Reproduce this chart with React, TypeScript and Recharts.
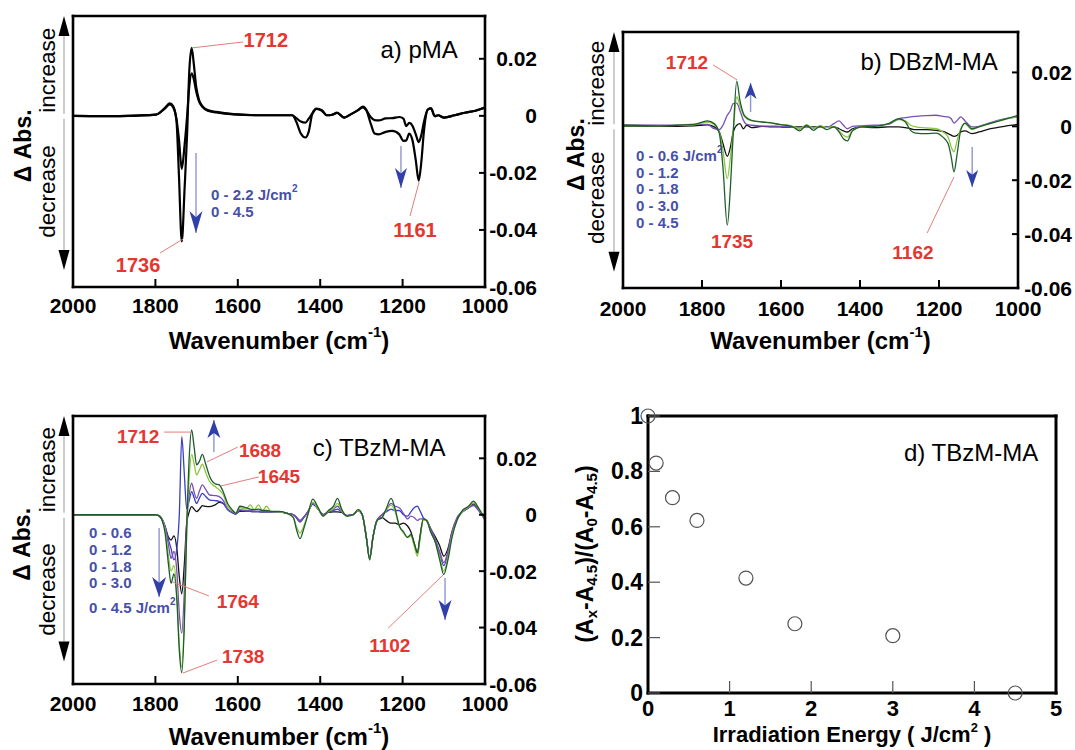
import React from 'react';
import { LineChart, Line, XAxis, YAxis, ReferenceLine, ReferenceDot, ScatterChart, Scatter } from 'recharts';

const FONT = '"Liberation Sans", Arial, Helvetica, sans-serif';
const RED = '#e6362f';
const LEADER = '#e47d78';
const BLUE_TXT = '#4650a8';
const BLUE_HEAD = '#3140a8';
const BLUE_SHAFT = '#8d96cf';

// ---------------- data ----------------
const wnTicks = [2000, 1800, 1600, 1400, 1200, 1000];
const absTicks = [0.02, 0, -0.02, -0.04, -0.06];
const ABS_MIN = -0.06;
const ABS_MAX = 0.035;

// a) pMA
const pmaWn = [
  2000, 1929, 1845, 1799, 1778, 1765, 1757, 1749, 1743, 1736,
  1729, 1723, 1718, 1712, 1707, 1701, 1694, 1686, 1673, 1652,
  1610, 1552, 1468, 1458, 1447, 1436, 1428, 1419, 1409, 1396,
  1384, 1371, 1359, 1342, 1325, 1308, 1296, 1288, 1277, 1268,
  1258, 1241, 1225, 1208, 1198, 1191, 1184, 1176, 1168, 1161,
  1155, 1148, 1139, 1131, 1122, 1114, 1099, 1074, 1049, 1023, 1000,
];
const pma45 = [
  0, -0.0001, 0.0001, 0.0004, 0.0026, 0.0044, 0.0034, -0.0015, -0.0203, -0.044,
  -0.025, -0.0062, 0.0149, 0.0238, 0.0185, 0.0102, 0.0055, 0.0034, 0.002, 0.0014,
  0.0006, 0.0002, 0.0002, -0.0021, -0.0062, -0.0076, -0.0056, 0.0008, 0.0025, 0.002,
  0.0002, 0.0004, 0.0011, -0.0006, 0.0006, 0.002, 0.0032, 0.002, -0.0029, -0.0062,
  -0.0065, -0.0056, -0.0053, -0.0065, -0.0088, -0.0086, -0.0062, -0.0086, -0.0156, -0.0227,
  -0.0168, -0.0051, 0.0022, 0.0026, -0.0001, 0.0002, -0.0006, 0.0002, 0.0011, 0.0018, 0.0029,
];
const pma22 = [
  0, -0.0001, 0.0001, 0.0004, 0.0024, 0.004, 0.003, -0.001, -0.008, -0.0186,
  -0.01, 0, 0.01, 0.0149, 0.013, 0.0085, 0.005, 0.0032, 0.0018, 0.0012,
  0.0005, 0.0002, 0.0002, -0.0008, -0.002, -0.0024, -0.001, 0.0008, 0.0024, 0.0018,
  0.0002, 0.0004, 0.001, -0.0006, 0.0006, 0.002, 0.003, 0.002, -0.0005, -0.0015,
  -0.0016, -0.0009, -0.0008, -0.0004, -0.001, -0.0036, -0.0025, -0.0035, -0.0065, -0.0092,
  -0.007, -0.002, 0.0022, 0.0026, -0.0001, 0.0002, -0.0006, 0.0002, 0.0011, 0.0018, 0.0029,
];

// b) DBzM-MA
const dbzWn = [
  2000, 1907, 1820, 1786, 1769, 1756, 1747, 1736, 1728, 1721,
  1712, 1704, 1695, 1687, 1674, 1648, 1622, 1604, 1587, 1570,
  1553, 1535, 1518, 1501, 1484, 1466, 1453, 1442, 1432, 1419,
  1397, 1363, 1328, 1302, 1285, 1272, 1259, 1233, 1207, 1190,
  1177, 1169, 1162, 1154, 1145, 1134, 1117, 1099, 1078, 1043,
  1000,
];
const dbz06 = [
  0, 0, 0.0002, 0.0005, -0.0002, -0.0021, -0.0064, -0.0111, -0.0077, -0.0021,
  0.0004, 0.001, -0.0009, 0.0004, -0.0005, 0, -0.0002, -0.0002, -0.0003, -0.0002,
  -0.0002, -0.0002, -0.0002, -0.0002, -0.0002, -0.0002, -0.0009, -0.0017, -0.0021, -0.0009,
  -0.0002, -0.0005, -0.0002, -0.0002, -0.0005, -0.0009, -0.0012, -0.0012, -0.0015, -0.0019,
  -0.0027, -0.0033, -0.0037, -0.0033, -0.0021, -0.0017, -0.0027, -0.0021, -0.0012, -0.0002,
  0.0007,
];
const dbz12 = [
  0.0005, 0.0004, 0.0007, 0.0007, -0.0009, -0.0012, 0.0004, 0.0041, 0.0059, 0.0084,
  0.0086, 0.0059, 0.0022, 0.0007, 0.0004, 0.0001, 0.0001, 0, 0, -0.0002,
  -0.001, 0, -0.0007, 0.0001, -0.0004, 0.001, 0.002, 0.0004, -0.0009, 0,
  0.0002, 0.0004, 0.0007, 0.0028, 0.0032, 0.0035, 0.0037, 0.004, 0.0041, 0.0037,
  0.0035, 0.0028, 0.0012, 0.0022, 0.0035, 0.002, -0.0002, 0, 0.001, 0.0025,
  0.0035,
];
const dbz30 = [
  0.0002, 0.0002, 0.0006, 0.0016, 0.0007, -0.0021, -0.0089, -0.0194, -0.0114, -0.0015,
  0.0109, 0.0078, 0.0041, 0.0028, 0.002, 0.0016, 0.0012, 0.0007, 0.0005, 0,
  -0.0009, 0.0005, -0.0007, 0.0002, -0.0005, 0, -0.0017, -0.0033, -0.004, -0.0015,
  -0.0002, 0, 0.001, 0.0025, 0.002, 0.0004, -0.0002, -0.0006, -0.0009, -0.0021,
  -0.004, -0.0077, -0.0095, -0.0052, -0.0009, 0.001, -0.0012, -0.0002, 0.0007, 0.0022,
  0.0037,
];
const dbz45 = [
  0.0004, 0.0002, 0.0007, 0.002, 0.001, -0.0027, -0.0151, -0.0367, -0.0225, -0.0027,
  0.0168, 0.0096, 0.0047, 0.0032, 0.0022, 0.0016, 0.0012, 0.0007, 0.0004, -0.0002,
  -0.0017, 0.0004, -0.0015, 0, -0.0012, -0.0002, -0.0021, -0.0046, -0.0054, -0.0017,
  -0.0002, 0, 0.001, 0.0028, 0.0016, -0.0015, -0.0025, -0.0027, -0.0025, -0.004,
  -0.0064, -0.0114, -0.0169, -0.0101, -0.0015, 0.0012, -0.0009, -0.0002, 0.0007, 0.0022,
  0.0041,
];

// c) TBzM-MA
const tbzWn = [
  2000, 1900, 1800, 1790, 1777, 1768, 1762, 1755, 1748, 1742,
  1736, 1730, 1724, 1718, 1712, 1706, 1700, 1693, 1686, 1678,
  1668, 1655, 1645, 1635, 1625, 1612, 1605, 1595, 1580, 1570,
  1560, 1550, 1540, 1530, 1520, 1500, 1480, 1465, 1458, 1449,
  1440, 1430, 1418, 1405, 1393, 1380, 1368, 1358, 1348, 1335,
  1320, 1308, 1298, 1288, 1280, 1272, 1262, 1250, 1240, 1228,
  1218, 1208, 1198, 1188, 1180, 1172, 1164, 1158, 1150, 1142,
  1132, 1120, 1110, 1100, 1090, 1080, 1068, 1055, 1040, 1028,
  1018, 1008, 1000,
];
const tbz06 = [
  0, 0, 0, -0.0005, -0.004, -0.008, -0.009, -0.0075, -0.012, -0.022,
  -0.028, -0.018, -0.003, 0.001, 0.0029, 0.002, 0.0011, 0.002, 0.0032, 0.003,
  0.0029, 0.0035, 0.0044, 0.004, 0.002, 0.0008, 0.0003, 0.0012, 0.0012, 0.0012,
  0.0011, 0.0011, 0.001, 0.001, 0.001, 0.001, 0.0005, 0, -0.001, -0.0025,
  -0.001, 0.001, 0.0038, 0.002, 0, 0.0008, 0.001, 0.001, 0.0008, -0.0003,
  0, 0.0015, 0, -0.008, -0.0155, -0.008, -0.002, -0.001, -0.002, -0.003,
  -0.003, -0.0035, -0.003, -0.004, -0.006, -0.01, -0.0135, -0.008, -0.002, -0.002,
  -0.005, -0.008, -0.011, -0.0147, -0.012, -0.006, -0.0015, 0.001, 0.0025, 0.0038,
  0.0025, 0.0005, -0.0005,
];
const tbz12 = [
  0, 0, 0, -0.0005, -0.004, -0.009, -0.012, -0.016, -0.012, 0,
  0.0277, 0.015, 0.002, 0.005, 0.0082, 0.006, 0.004, 0.006, 0.0076, 0.0065,
  0.0052, 0.005, 0.0047, 0.004, 0.0018, 0.0006, 0.0002, 0.0015, 0.0012, 0.0012,
  0.0011, 0.0011, 0.001, 0.001, 0.001, 0.001, 0.0005, 0, -0.0008, -0.002,
  -0.0008, 0.001, 0.0038, 0.002, 0, 0.001, 0.0015, 0.002, 0.001, -0.0003,
  0, 0.0015, 0, -0.008, -0.0155, -0.008, -0.002, 0, 0.001, 0.002,
  0.0015, 0.0015, 0, -0.0005, 0.001, 0.0025, 0.003, 0.0015, -0.001, -0.002,
  -0.005, -0.009, -0.014, -0.018, -0.014, -0.0065, -0.0015, 0.001, 0.0025, 0.0032,
  0.002, 0, -0.0015,
];
const tbz18 = [
  0, 0, 0, -0.0005, -0.004, -0.011, -0.0155, -0.013, -0.02, -0.035,
  -0.042, -0.028, -0.003, 0.007, 0.0112, 0.008, 0.0058, 0.0085, 0.0106, 0.009,
  0.007, 0.0068, 0.0064, 0.005, 0.002, 0.0008, 0.0003, 0.0018, 0.0015, 0.0015,
  0.0013, 0.0013, 0.0012, 0.0012, 0.0011, 0.001, 0.0005, 0, -0.001, -0.0025,
  -0.001, 0.001, 0.004, 0.002, 0, 0.0012, 0.002, 0.003, 0.0012, -0.0003,
  0, 0.0015, 0, -0.008, -0.0155, -0.008, -0.002, 0, 0.0015, 0.004,
  0.003, 0.0025, 0.0005, -0.0015, -0.0005, -0.001, -0.002, -0.0015, -0.0015, -0.002,
  -0.005, -0.009, -0.013, -0.017, -0.013, -0.006, -0.001, 0.001, 0.0025, 0.0035,
  0.002, 0, -0.002,
];
const tbz30 = [
  0, 0, 0, -0.0005, -0.005, -0.015, -0.02, -0.018, -0.028, -0.046,
  -0.054, -0.038, -0.006, 0.013, 0.0214, 0.018, 0.0141, 0.016, 0.0179, 0.015,
  0.0117, 0.01, 0.0088, 0.007, 0.003, 0.0012, 0.0005, 0.0025, 0.002, 0.0035,
  0.0018, 0.0035, 0.0015, 0.003, 0.0012, 0.001, 0.0005, -0.001, -0.004, -0.0065,
  -0.004, 0, 0.0045, 0.002, -0.0005, 0.0012, 0.0022, 0.004, 0.0015, -0.0005,
  0, 0.0015, 0, -0.008, -0.016, -0.008, -0.002, -0.001, 0.0015, 0.0034,
  0.001, -0.004, -0.0064, -0.008, -0.0075, -0.011, -0.0147, -0.009, -0.002, -0.002,
  -0.006, -0.01, -0.015, -0.02, -0.015, -0.0075, -0.002, 0.001, 0.0028, 0.0042,
  0.0028, 0.0005, -0.001,
];
const tbz45 = [
  0, 0, 0, -0.0005, -0.006, -0.018, -0.0243, -0.021, -0.03, -0.048,
  -0.056, -0.04, -0.005, 0.02, 0.0301, 0.024, 0.0177, 0.019, 0.0214, 0.018,
  0.0135, 0.011, 0.0106, 0.008, 0.0041, 0.0015, 0.0005, 0.003, 0.0025, 0.002,
  0.0018, 0.002, 0.0015, 0.0015, 0.0012, 0.0012, 0.0005, -0.001, -0.005, -0.0085,
  -0.005, 0, 0.0055, 0.0025, -0.0005, 0.0015, 0.003, 0.0058, 0.002, -0.0005,
  0, 0.0018, 0, -0.008, -0.016, -0.008, -0.002, -0.001, 0.002, 0.0058,
  0.002, -0.004, -0.006, -0.008, -0.007, -0.01, -0.0135, -0.008, -0.0015, -0.002,
  -0.006, -0.01, -0.016, -0.0212, -0.016, -0.008, -0.002, 0.0015, 0.003, 0.0048,
  0.003, 0.0005, -0.001,
];

// d) TBzM-MA normalised absorbance
const energyTicks = [0, 1, 2, 3, 4, 5];
const ratioTicks = [0, 0.2, 0.4, 0.6, 0.8, 1];
const energyValues = [0, 0.1, 0.3, 0.6, 1.2, 1.8, 3.0, 4.5];
const ratioValues = [1.0, 0.83, 0.705, 0.623, 0.415, 0.25, 0.207, 0.0];

// ---------------- helpers ----------------
const zip = (xs: number[], ys: number[]) => xs.map((x, i) => ({ wn: x, v: ys[i] }));
const IDS = { xAxisId: 'b', yAxisId: 'r' };

const mkTick = (anchor: string, size: number) => (p: any) => (
  <text x={p.x} y={p.y} textAnchor={anchor} dominantBaseline="central" fontFamily={FONT}
    fontWeight={700} fontSize={size} fill="#000">{String(p.payload.value)}</text>
);

function note(key: string, x: number, y: number, text: string, o: any = {}) {
  const color = o.color || RED;
  const size = o.size || 20;
  const weight = o.weight || 700;
  return (
    <ReferenceDot key={key} {...IDS} x={x} y={y} r={1} ifOverflow="visible"
      shape={(p: any) => (
        <text x={p.cx} y={p.cy} textAnchor="middle" dominantBaseline="central" fontFamily={FONT}
          fontWeight={weight} fontSize={size} fill={color}>{text}</text>
      )} />
  );
}

function leader(key: string, x1: number, y1: number, x2: number, y2: number) {
  return (
    <ReferenceLine key={key} {...IDS} segment={[{ x: x1, y: y1 }, { x: x2, y: y2 }]}
      stroke={LEADER} strokeWidth={1} ifOverflow="visible" />
  );
}

function arrow(key: string, x: number, yFrom: number, yTip: number, w: number, h: number) {
  const down = yTip < yFrom;
  return [
    <ReferenceLine key={key + 's'} {...IDS} segment={[{ x, y: yFrom }, { x, y: yTip }]}
      stroke={BLUE_SHAFT} strokeWidth={1.4} ifOverflow="visible" />,
    <ReferenceDot key={key + 'h'} {...IDS} x={x} y={yTip} r={1} ifOverflow="visible"
      shape={(p: any) => {
        const back = down ? -1 : 1;
        const pts = [
          [p.cx, p.cy],
          [p.cx - w / 2, p.cy + back * h],
          [p.cx, p.cy + back * h * 0.72],
          [p.cx + w / 2, p.cy + back * h],
        ].map((q) => q.join(',')).join(' ');
        return <polygon points={pts} fill={BLUE_HEAD} />;
      }} />,
  ];
}

function blueBlock(key: string, x: number, y: number, lines: string[], offsets: number[], supLine: number) {
  return (
    <ReferenceDot key={key} {...IDS} x={x} y={y} r={1} ifOverflow="visible"
      shape={(p: any) => (
        <text fontFamily={FONT} fontWeight={700} fontSize={15} fill={BLUE_TXT} dominantBaseline="central">
          {lines.map((ln, i) => (
            <tspan key={i} x={p.cx} y={p.cy + offsets[i]}>
              {ln}
              {i === supLine ? <tspan dy={-6} fontSize={10}>2</tspan> : null}
            </tspan>
          ))}
        </text>
      )} />
  );
}

const rotText = (x: number, y: number, t: string, size: number, weight: number) => (
  <text x={x} y={y} transform={`rotate(-90 ${x} ${y})`} textAnchor="middle" dominantBaseline="central"
    fontFamily={FONT} fontSize={size} fontWeight={weight} fill="#000">{t}</text>
);

type Rect = { x: number; y: number; w: number; h: number };

function leftDecor(p: Rect, off: { abs: number; inc: number; arr: number }, tipV: number) {
  const yOf = (v: number) => p.y + ((ABS_MAX - v) / (ABS_MAX - ABS_MIN)) * p.h;
  const ax = p.x + off.arr;
  const y0 = yOf(0);
  const yb = yOf(tipV);
  const hh = 20;
  const hw = 5.5;
  return (
    <g>
      <line x1={ax} x2={ax} y1={p.y + hh} y2={y0 - 2} stroke="#9a9a9a" strokeWidth={1} />
      <polygon points={`${ax},${p.y} ${ax - hw},${p.y + hh} ${ax + hw},${p.y + hh}`} fill="#000" />
      <line x1={ax} x2={ax} y1={y0 + 3} y2={yb - hh} stroke="#9a9a9a" strokeWidth={1} />
      <polygon points={`${ax},${yb} ${ax - hw},${yb - hh} ${ax + hw},${yb - hh}`} fill="#000" />
      {rotText(p.x + off.inc, yOf(0.016), 'increase', 22.5, 400)}
      {rotText(p.x + off.inc, yOf(-0.0265), 'decrease', 22.5, 400)}
      {rotText(p.x + off.abs, yOf(-0.0105), 'Δ Abs.', 23, 700)}
    </g>
  );
}

type Curve = { values: number[]; color: string; width: number };

function Spectrum(props: any) {
  const { left, top, W, H, plot, grid, curves, notes, off, tipV, bm, rm, titleY } = props;
  const frame = { stroke: '#000', strokeWidth: 2.6, strokeLinecap: 'square' };
  const tl = { stroke: '#000', strokeWidth: 2 };
  const xDom = [1000, 2000];
  const yDom = [ABS_MIN, ABS_MAX];
  return (
    <div style={{ position: 'absolute', left, top }}>
      <LineChart width={W} height={H} margin={{ top: 0, right: 0, bottom: 0, left: 0 }}>
        <XAxis xAxisId="b" dataKey="wn" type="number" domain={xDom} reversed allowDataOverflow
          ticks={wnTicks} interval={0} orientation="bottom" height={H - plot.y - plot.h}
          tickSize={-8} tickMargin={bm} tick={mkTick('middle', 21)} tickLine={tl} axisLine={frame}
          label={{
            content: () => (
              <text x={plot.x + plot.w / 2} y={titleY} textAnchor="middle" dominantBaseline="central"
                fontFamily={FONT} fontWeight={700} fontSize={24} fill="#000">
                Wavenumber (cm<tspan dy={-9} fontSize={15}>-1</tspan><tspan dy={9}>)</tspan>
              </text>
            ),
          }} />
        <XAxis xAxisId="t" type="number" domain={xDom} reversed allowDataOverflow ticks={wnTicks}
          interval={0} orientation="top" height={plot.y} tickSize={-8} tick={false} tickLine={tl}
          axisLine={frame} />
        <YAxis yAxisId="l" type="number" domain={yDom} allowDataOverflow ticks={absTicks} interval={0}
          orientation="left" width={plot.x} tickSize={-8} tick={false} tickLine={tl} axisLine={frame}
          label={{ content: () => leftDecor(plot, off, tipV) }} />
        <YAxis yAxisId="r" type="number" domain={yDom} allowDataOverflow ticks={absTicks} interval={0}
          orientation="right" width={W - plot.x - plot.w} tickSize={-6} tickMargin={rm}
          tick={mkTick('end', 21)} tickLine={tl} axisLine={frame} />
        {curves.map((c: Curve, i: number) => (
          <Line key={'c' + i} {...IDS} data={zip(grid, c.values)} dataKey="v" type="monotone"
            stroke={c.color} strokeWidth={c.width} dot={false} activeDot={false}
            isAnimationActive={false} />
        ))}
        {notes}
      </LineChart>
    </div>
  );
}

function ScatterPanel() {
  const W = 515;
  const H = 370;
  const plot = { x: 88, y: 36, w: 408, h: 277 };
  const pts = energyValues.map((e, i) => ({ e, r: ratioValues[i] }));
  const frame = { stroke: '#000', strokeWidth: 3, strokeLinecap: 'square' };
  const tl = { stroke: '#555', strokeWidth: 1.2 };
  return (
    <div style={{ position: 'absolute', left: 560, top: 380 }}>
      <ScatterChart width={W} height={H} margin={{ top: 0, right: 0, bottom: 0, left: 0 }}>
        <XAxis xAxisId="b" dataKey="e" type="number" domain={[0, 5]} ticks={energyTicks} interval={0}
          height={H - plot.y - plot.h} tickSize={-12} tickMargin={27} tick={mkTick('middle', 22)}
          tickLine={tl} axisLine={frame}
          label={{
            content: () => (
              <text x={plot.x + plot.w / 2} y={354} textAnchor="middle" dominantBaseline="central"
                fontFamily={FONT} fontWeight={700} fontSize={22} fill="#000">
                Irradiation Energy ( J/cm<tspan dy={-7} fontSize={13}>2</tspan><tspan dy={7}> )</tspan>
              </text>
            ),
          }} />
        <XAxis xAxisId="t" orientation="top" type="number" domain={[0, 5]} allowDataOverflow
          ticks={energyTicks} interval={0} height={plot.y} tickSize={-12} tick={false} tickLine={tl}
          axisLine={frame} />
        <YAxis yAxisId="l" dataKey="r" type="number" domain={[0, 1]} ticks={ratioTicks} interval={0}
          width={plot.x} tickSize={-12} tickMargin={17} tick={mkTick('end', 23)} tickLine={tl}
          axisLine={frame}
          label={{
            content: () => {
              const cx = 24.5;
              const cy = 174;
              return (
                <text x={cx} y={cy} transform={`rotate(-90 ${cx} ${cy})`} textAnchor="middle"
                  dominantBaseline="central" fontFamily={FONT} fontWeight={700} fontSize={23} fill="#000">
                  (A<tspan dy={6} fontSize={15}>x</tspan><tspan dy={-6}>-A</tspan>
                  <tspan dy={6} fontSize={15}>4.5</tspan><tspan dy={-6}>)/(A</tspan>
                  <tspan dy={6} fontSize={15}>0</tspan><tspan dy={-6}>-A</tspan>
                  <tspan dy={6} fontSize={15}>4.5</tspan><tspan dy={-6}>)</tspan>
                </text>
              );
            },
          }} />
        <YAxis yAxisId="r" orientation="right" type="number" domain={[0, 1]} allowDataOverflow
          ticks={ratioTicks} interval={0} width={W - plot.x - plot.w} tickSize={-12} tick={false}
          tickLine={tl} axisLine={frame} />
        <Scatter xAxisId="b" yAxisId="l" data={pts} isAnimationActive={false}
          shape={(p: any) => <circle cx={p.cx} cy={p.cy} r={7} fill="none" stroke="#555" strokeWidth={1.2} />} />
        <ReferenceDot xAxisId="b" yAxisId="l" x={3.96} y={0.87} r={1} ifOverflow="visible"
          shape={(p: any) => (
            <text x={p.cx} y={p.cy} textAnchor="middle" dominantBaseline="central" fontFamily={FONT}
              fontSize={24} fill="#000">d) TBzM-MA</text>
          )} />
      </ScatterChart>
    </div>
  );
}

export default function App() {
  const notesA = [
    note('a1', 1532, 0.0266, '1712'),
    leader('a1l', 1712, 0.0238, 1587, 0.0259),
    note('a2', 1842, -0.0523, '1736'),
    leader('a2l', 1789, -0.0481, 1733, -0.0432),
    note('a3', 1170, -0.04, '1161'),
    leader('a3l', 1182, -0.0351, 1160, -0.0232),
    note('a4', 1160, 0.0231, 'a) pMA', { color: '#000', size: 24, weight: 400 }),
    ...arrow('a5', 1701.5, -0.013, -0.0411, 13, 22),
    ...arrow('a6', 1204, -0.0106, -0.0253, 12, 20),
    blueBlock('a7', 1665, -0.0274, ['0 - 2.2 J/cm', '0 - 4.5'], [0, 17], 0),
  ];
  const notesB = [
    note('b1', 1838, 0.0235, '1712', { size: 19 }),
    leader('b1l', 1772, 0.0228, 1711, 0.0172),
    note('b2', 1225, 0.0239, 'b) DBzM-MA', { color: '#000', size: 24, weight: 400 }),
    ...arrow('b3', 1677, 0.0053, 0.0161, 12, 16),
    blueBlock('b4', 1967, -0.0106, ['0 - 0.6 J/cm', '0 - 1.2', '0 - 1.8', '0 - 3.0', '0 - 4.5'],
      [0, 16.7, 33.4, 50.1, 66.8], 0),
    note('b5', 1724, -0.0429, '1735', { size: 19 }),
    note('b6', 1266, -0.047, '1162', { size: 19 }),
    leader('b6l', 1230, -0.0396, 1162, -0.0188),
    ...arrow('b7', 1116, -0.0077, -0.0225, 12, 17),
  ];
  const notesC = [
    note('c1', 1842, 0.0276, '1712', { size: 19 }),
    leader('c1l', 1779, 0.0293, 1716, 0.0293),
    ...arrow('c2', 1658, 0.0222, 0.0336, 13, 18),
    note('c3', 1546, 0.0226, '1688', { size: 19 }),
    leader('c3l', 1600, 0.024, 1675, 0.0187),
    note('c4', 1500, 0.0134, '1645', { size: 19 }),
    leader('c4l', 1549, 0.0134, 1641, 0.0102),
    note('c5', 1257, 0.0237, 'c) TBzM-MA', { color: '#000', size: 24, weight: 400 }),
    blueBlock('c6', 1961, -0.0061, ['0 - 0.6', '0 - 1.2', '0 - 1.8', '0 - 3.0', '0 - 4.5 J/cm'],
      [0, 17, 34, 50, 75], 4),
    ...arrow('c7', 1791, -0.0047, -0.0292, 14, 20),
    note('c8', 1600, -0.0306, '1764', { size: 19 }),
    leader('c8l', 1670, -0.0288, 1759, -0.0238),
    note('c9', 1587, -0.0504, '1738', { size: 19 }),
    leader('c9l', 1650, -0.0515, 1733, -0.0561),
    note('c10', 1231, -0.0462, '1102', { size: 19 }),
    leader('c10l', 1235, -0.0402, 1102, -0.0214),
    ...arrow('c11', 1097, -0.0224, -0.0373, 13, 20),
  ];

  const curvesA: Curve[] = [
    { values: pma22, color: '#000', width: 2.2 },
    { values: pma45, color: '#000', width: 2.2 },
  ];
  const curvesB: Curve[] = [
    { values: dbz06, color: '#111', width: 1.3 },
    { values: dbz12, color: '#7650b4', width: 1.3 },
    { values: dbz30, color: '#8cc63f', width: 1.3 },
    { values: dbz45, color: '#1f5f2e', width: 1.3 },
  ];
  const curvesC: Curve[] = [
    { values: tbz06, color: '#111', width: 1.3 },
    { values: tbz12, color: '#3a40c4', width: 1.3 },
    { values: tbz18, color: '#7a4db5', width: 1.3 },
    { values: tbz30, color: '#8cc63f', width: 1.3 },
    { values: tbz45, color: '#1f5a2e', width: 1.3 },
  ];

  return (
    <div style={{ position: 'absolute', left: 0, top: 0, width: 1075, height: 750, background: '#fff', overflow: 'hidden' }}>
      <Spectrum left={0} top={0} W={560} H={370} plot={{ x: 73, y: 16, w: 412, h: 271 }}
        grid={pmaWn} curves={curvesA} notes={notesA} off={{ abs: -50, inc: -25, arr: -9 }}
        tipV={-0.054} bm={26} rm={58} titleY={340} />
      <Spectrum left={540} top={0} W={535} H={370} plot={{ x: 83, y: 32, w: 395, h: 256 }}
        grid={dbzWn} curves={curvesB} notes={notesB} off={{ abs: -47, inc: -26, arr: -9 }}
        tipV={-0.054} bm={28} rm={60} titleY={340} />
      <Spectrum left={0} top={380} W={560} H={370} plot={{ x: 73, y: 36, w: 412, h: 268 }}
        grid={tbzWn} curves={curvesC} notes={notesC} off={{ abs: -51, inc: -25, arr: -9 }}
        tipV={-0.052} bm={27} rm={58} titleY={356} />
      <ScatterPanel />
    </div>
  );
}
